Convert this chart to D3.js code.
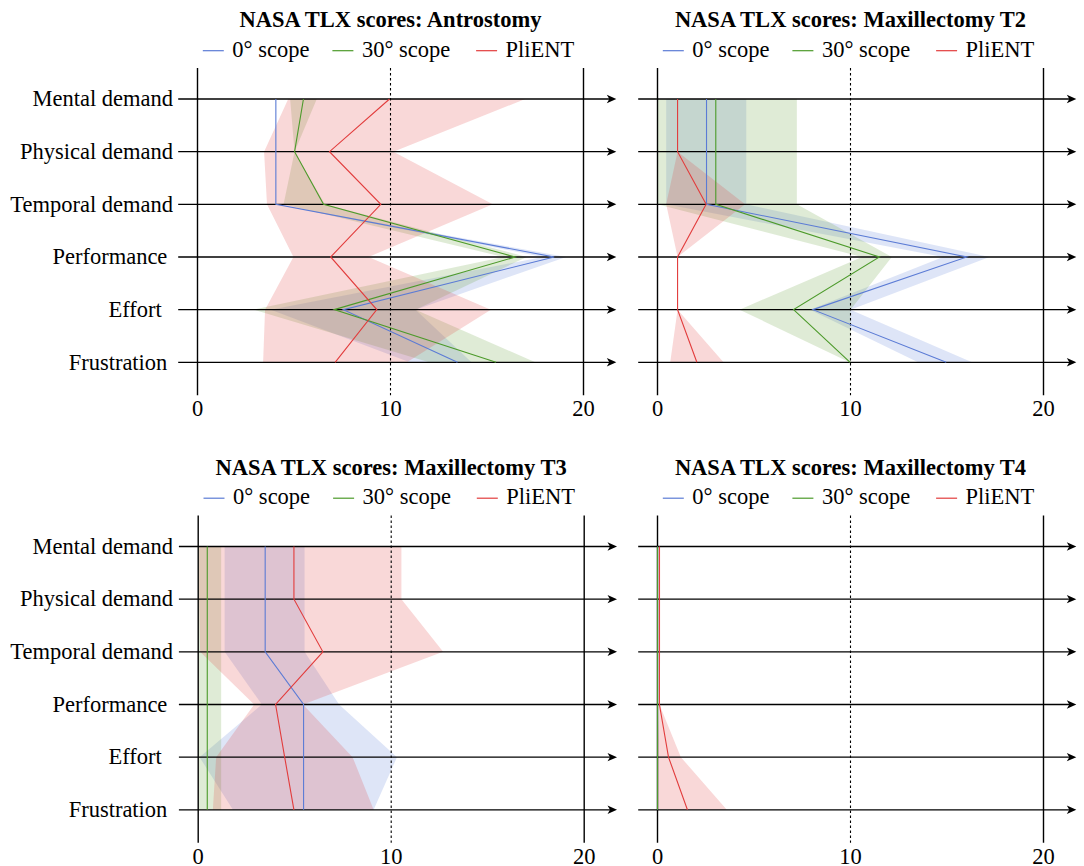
<!DOCTYPE html>
<html>
<head>
<meta charset="utf-8">
<script src="https://cdn.jsdelivr.net/npm/d3@7"></script>
<style>
  html, body { margin: 0; padding: 0; background: #fff; }
  svg { display: block; }
  text { font-family: "Liberation Serif", "Times New Roman", serif; fill: #000; white-space: pre; }
</style>
</head>
<body>
<svg id="chart" width="1084" height="866"></svg>
<script>
// NASA TLX subscales (row order, top to bottom)
const categories = ["Mental demand", "Physical demand", "Temporal demand", "Performance ", "Effort  ", "Frustration "];
const seriesNames = ["0° scope", "30° scope", "PliENT"];
const xTicks = [0, 10, 20];
const panelTitles = [
  "NASA TLX scores: Antrostomy",
  "NASA TLX scores: Maxillectomy T2",
  "NASA TLX scores: Maxillectomy T3",
  "NASA TLX scores: Maxillectomy T4"
];

// Antrostomy: mean score and shaded range per subscale
const antroScope0    = [4.06, 4.06, 4.06, 18.48, 7.56, 13.47];
const antroScope0Lo  = [4.06, 4.06, 4.06, 17.9, 3.8, 11.0];
const antroScope0Hi  = [4.06, 4.06, 4.06, 19.1, 11.3, 14.2];
const antroScope30   = [5.49, 5.03, 6.53, 16.46, 7.08, 15.47];
const antroScope30Lo = [4.8, 5.03, 4.46, 15.85, 2.9, 12.0];
const antroScope30Hi = [6.18, 5.03, 6.6, 17.06, 11.3, 17.5];
const antroPlient    = [9.95, 6.84, 9.5, 6.9, 9.29, 7.13];
const antroPlientLo  = [4.7, 3.45, 3.6, 4.97, 3.5, 3.4];
const antroPlientHi  = [16.98, 10.15, 15.3, 8.86, 15.2, 10.85];

// Maxillectomy T2
const t2Scope0    = [2.54, 2.54, 2.54, 16.03, 8.05, 14.96];
const t2Scope0Lo  = [0.45, 0.45, 0.45, 14.8, 7.9, 13.5];
const t2Scope0Hi  = [4.6, 4.6, 4.6, 17.2, 10.0, 16.3];
const t2Scope30   = [3.02, 3.02, 3.02, 11.5, 7.05, 9.98];
const t2Scope30Lo = [0, 0, 0, 10.6, 4.25, 9.95];
const t2Scope30Hi = [7.22, 7.22, 7.22, 12.14, 10.0, 10.02];
const t2Plient    = [1.04, 1.04, 2.52, 1.04, 1.04, 2.04];
const t2PlientLo  = [1.04, 1.04, 0.45, 1.04, 1.04, 0.66];
const t2PlientHi  = [1.04, 1.04, 4.54, 1.04, 1.04, 3.42];

// Maxillectomy T3
const t3Scope0    = [3.47, 3.47, 3.47, 5.46, 5.46, 5.46];
const t3Scope0Lo  = [1.37, 1.37, 1.37, 3.3, 0.07, 1.8];
const t3Scope0Hi  = [5.51, 5.51, 5.51, 7.3, 10.3, 9.09];
const t3Scope30   = [0.47, 0.47, 0.47, 0.47, 0.47, 0.47];
const t3Scope30Lo = [0, 0, 0, 0, 0, 0];
const t3Scope30Hi = [1.19, 1.19, 1.19, 1.19, 1.19, 1.19];
const t3Plient    = [4.96, 4.96, 6.46, 4.01, 4.48, 4.96];
const t3PlientLo  = [0.05, 0.05, 0.1, 2.9, 0.93, 0.76];
const t3PlientHi  = [10.53, 10.53, 12.69, 5.43, 8.0, 9.09];

// Maxillectomy T4
const t4Scope0    = [0, 0, 0, 0, 0, 0];
const t4Scope0Lo  = [0, 0, 0, 0, 0, 0];
const t4Scope0Hi  = [0, 0, 0, 0, 0, 0];
const t4Scope30   = [0, 0, 0, 0, 0, 0];
const t4Scope30Lo = [0, 0, 0, 0, 0, 0];
const t4Scope30Hi = [0, 0, 0, 0, 0, 0];
const t4Plient    = [0.1, 0.1, 0.1, 0.1, 0.57, 1.55];
const t4PlientLo  = [0.08, 0.08, 0.08, 0.08, 0, 0];
const t4PlientHi  = [0.14, 0.14, 0.14, 0.1, 1.21, 3.59];

const lineColors = ["#5b7bd5", "#4c9a2a", "#e23c3c"];
const bandColors = ["rgba(91,123,213,0.2)", "rgba(110,165,70,0.22)", "rgba(226,60,60,0.2)"];

const panels = [
  { title: panelTitles[0], left: 197.5, top: 99,    labels: true,
    series: [[antroScope0, antroScope0Lo, antroScope0Hi], [antroScope30, antroScope30Lo, antroScope30Hi], [antroPlient, antroPlientLo, antroPlientHi]] },
  { title: panelTitles[1], left: 657.5, top: 99,    labels: false,
    series: [[t2Scope0, t2Scope0Lo, t2Scope0Hi], [t2Scope30, t2Scope30Lo, t2Scope30Hi], [t2Plient, t2PlientLo, t2PlientHi]] },
  { title: panelTitles[2], left: 198.2, top: 546.5, labels: true,
    series: [[t3Scope0, t3Scope0Lo, t3Scope0Hi], [t3Scope30, t3Scope30Lo, t3Scope30Hi], [t3Plient, t3PlientLo, t3PlientHi]] },
  { title: panelTitles[3], left: 657.5, top: 546.5, labels: false,
    series: [[t4Scope0, t4Scope0Lo, t4Scope0Hi], [t4Scope30, t4Scope30Lo, t4Scope30Hi], [t4Plient, t4PlientLo, t4PlientHi]] }
];

const svg = d3.select("#chart");
const FONT = 22.5;
const plotWidth = 386;
const rowSpan = 263.3;

panels.forEach(p => {
  const x = d3.scaleLinear().domain([0, 20]).range([p.left, p.left + plotWidth]);
  const y = d3.scalePoint().domain(categories).range([p.top, p.top + rowSpan]);
  const g = svg.append("g");
  const cx = (x(0) + x(20)) / 2;

  // title
  g.append("text")
    .attr("x", cx).attr("y", p.top - 72)
    .attr("text-anchor", "middle")
    .style("font-size", FONT + "px").style("font-weight", "bold")
    .text(p.title);

  // legend
  const legendY = p.top - 48.3;
  const legendOffsets = [-187.7, -58.1, 85.6];
  seriesNames.forEach((name, i) => {
    const lx = cx + legendOffsets[i];
    g.append("line")
      .attr("x1", lx).attr("x2", lx + 21)
      .attr("y1", legendY).attr("y2", legendY)
      .attr("stroke", lineColors[i]).attr("stroke-width", 1.2);
    g.append("text")
      .attr("x", lx + 29.5).attr("y", legendY + 6.2)
      .style("font-size", FONT + "px")
      .text(name);
  });

  // shaded ranges
  const area = d3.area()
    .y((d, i) => y(categories[i]))
    .x0(d => x(d[0]))
    .x1(d => x(d[1]));
  p.series.forEach((s, i) => {
    const pts = s[1].map((lo, k) => [lo, s[2][k]]);
    g.append("path")
      .datum(pts)
      .attr("d", area)
      .attr("fill", bandColors[i])
      .attr("stroke", "none");
  });

  // horizontal subscale axes with arrowheads
  const arrowTip = x(21.7);
  categories.forEach(c => {
    const yy = y(c);
    g.append("line")
      .attr("x1", x(-1)).attr("x2", arrowTip - 4)
      .attr("y1", yy).attr("y2", yy)
      .attr("stroke", "#000").attr("stroke-width", 1.3);
    g.append("path")
      .attr("d", `M${arrowTip},${yy} L${arrowTip - 9.5},${yy - 4.2} L${arrowTip - 7},${yy} L${arrowTip - 9.5},${yy + 4.2} Z`)
      .attr("fill", "#000");
  });

  // vertical reference lines and tick labels
  const vTop = p.top - 31;
  const vBottom = p.top + rowSpan + 33;
  xTicks.forEach(t => {
    g.append("line")
      .attr("x1", x(t)).attr("x2", x(t))
      .attr("y1", vTop).attr("y2", vBottom)
      .attr("stroke", "#000")
      .attr("stroke-width", t === 10 ? 1.1 : 1.4)
      .attr("stroke-dasharray", t === 10 ? "2.5,2.5" : null);
    g.append("text")
      .attr("x", x(t)).attr("y", vBottom + 21)
      .attr("text-anchor", "middle")
      .style("font-size", FONT + "px")
      .text(t);
  });

  // subscale labels
  if (p.labels) {
    categories.forEach(c => {
      g.append("text")
        .attr("x", 173).attr("y", y(c) + 7.3)
        .attr("text-anchor", "end")
        .style("font-size", FONT + "px")
        .text(c);
    });
  }

  // mean score lines
  const line = d3.line()
    .x(d => x(d))
    .y((d, i) => y(categories[i]));
  p.series.forEach((s, i) => {
    g.append("path")
      .datum(s[0])
      .attr("d", line)
      .attr("fill", "none")
      .attr("stroke", lineColors[i])
      .attr("stroke-width", 1.1);
  });
});
</script>
</body>
</html>
